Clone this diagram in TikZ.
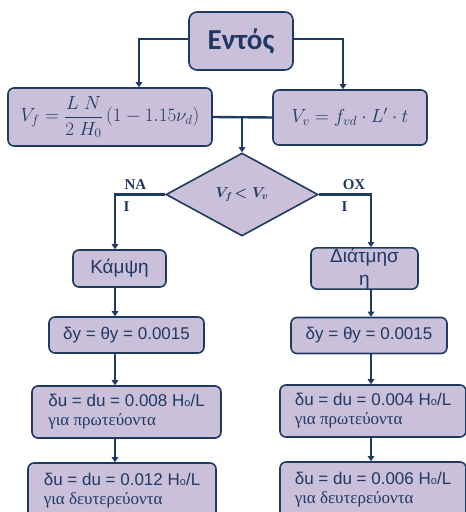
\documentclass[tikz,border=0pt]{standalone}
\usepackage{amsmath}
\usepackage{fontspec}
\usetikzlibrary{shapes.geometric,arrows.meta,calc}
\newfontfamily\calib{Carlito}
\newfontfamily\arialf{Liberation Sans}
\newfontfamily\tnr{Liberation Serif}
\definecolor{navy}{HTML}{1F3A60}
\definecolor{lav}{HTML}{CAC0DA}
\definecolor{txt}{HTML}{1F3864}
\tikzset{
  box/.style={draw=navy, line width=1.6pt, fill=lav, rounded corners=6pt, inner sep=0pt, align=center, text=txt},
  conn/.style={draw=navy, line width=2.4pt},
  arr/.style={conn, -{Triangle[width=6.5pt,length=5pt]}},
  lbl/.style={font=\tnr\bfseries\fontsize{15}{15}\selectfont, text=txt, inner sep=0pt},
}
\begin{document}
\begin{tikzpicture}[x=1pt,y=-1pt]
\useasboundingbox (0,0) rectangle (466,512);
\coordinate (lx) at (115,0);
\coordinate (rx) at (371,0);
\node[box, rounded corners=8pt, minimum width=104, minimum height=58, font=\calib\bfseries\fontsize{29}{29}\selectfont] (entos) at (241,41) {Εντός};
\node[box, minimum width=204, minimum height=58, font=\fontsize{17}{17}\selectfont] (vf) at (110,117) {\scalebox{1.1}{$V_f = \dfrac{L\;N}{2\;H_0}\,(1-1.15\nu_d)$}};
\node[box, minimum width=154, minimum height=55, font=\fontsize{17}{17}\selectfont] (vv) at (350,117.5) {\scalebox{1.1}{$V_v = f_{vd}\cdot L'\cdot t$}};
\node[shape=diamond, draw=navy, line width=1.6pt, fill=lav, inner sep=0pt, minimum width=152, minimum height=83, text=txt, font=\fontsize{14}{14}\selectfont\boldmath] (dia) at (242,194.5) {$V_f\!<V_v$};
\node[box, minimum width=93, minimum height=37, font=\arialf\fontsize{19}{19}\selectfont] (kampsi) at (119.5,268.5) {Κάμψη};
\node[box, minimum width=107, minimum height=37, font=\arialf\fontsize{19}{23}\selectfont] (diat) at (364.5,268.5) {Διάτμησ\\η};
\node[box, minimum width=155, minimum height=36, font=\arialf\fontsize{17}{17}\selectfont] (ly) at (126.5,335) {δy = θy = 0.0015};
\node[box, minimum width=156, minimum height=36, font=\arialf\fontsize{17}{17}\selectfont] (ry) at (369,335.5) {δy = θy = 0.0015};
\node[box, minimum width=189, minimum height=52, align=left, font=\arialf\fontsize{17}{19}\selectfont] (lu) at (126.5,412) {δu = du = 0.008 H{\fontsize{11}{11}\selectfont o}/L\\{\tnr για πρωτεύοντα}};
\node[box, minimum width=186, minimum height=52, align=left, font=\arialf\fontsize{17}{19}\selectfont] (ru) at (373,411) {δu = du = 0.004 H{\fontsize{11}{11}\selectfont o}/L\\{\tnr για πρωτεύοντα}};
\node[box, minimum width=188, minimum height=56, align=left, font=\arialf\fontsize{17}{19}\selectfont] (lb) at (122,491) {δu = du = 0.012 H{\fontsize{11}{11}\selectfont o}/L\\{\tnr για δευτερεύοντα}};
\node[box, minimum width=186, minimum height=56, align=left, font=\arialf\fontsize{17}{19}\selectfont] (rb) at (373,490) {δu = du = 0.006 H{\fontsize{11}{11}\selectfont o}/L\\{\tnr για δευτερεύοντα}};
% connectors
\draw[arr] ([yshift=2]entos.west) -| ([xshift=29]vf.north);
\draw[arr] ([yshift=2]entos.east) -| ([xshift=-7]vv.north);
\draw[conn] (vf.east) -- (vv.west);
\draw[arr] (vf.east -| dia.north) -- (dia.north);
\draw[arr] (dia.west) -| (kampsi.north -| lx);
\draw[arr] (dia.east) -| (diat.north -| rx);
\draw[arr] (kampsi.south -| lx) -- (ly.north -| lx);
\draw[arr] (ly.south -| lx) -- (lu.north -| lx);
\draw[arr] (lu.south -| lx) -- (lb.north -| lx);
\draw[arr] (diat.south -| rx) -- (ry.north -| rx);
\draw[arr] (ry.south -| rx) -- (ru.north -| rx);
\draw[arr] (ru.south -| rx) -- (rb.north -| rx);
% labels
\node[lbl, anchor=base] (na) at (135.5,189) {NA};
\node[lbl, anchor=base] (ni) at (126.5,211) {I};
\node[lbl, anchor=base] (ox) at (354,189) {OX};
\node[lbl, anchor=base] (oi) at (344.5,211) {I};
\end{tikzpicture}
\end{document}
